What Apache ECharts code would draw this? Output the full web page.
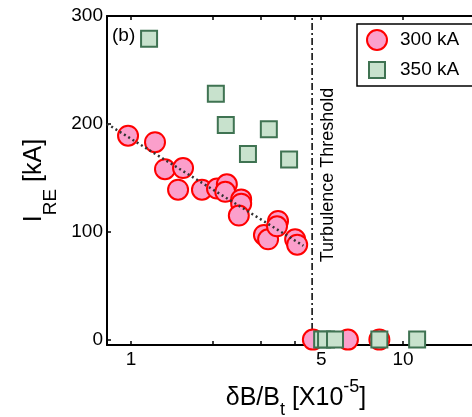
<!DOCTYPE html>
<html>
<head>
<meta charset="utf-8">
<script src="https://cdn.jsdelivr.net/npm/echarts@6/dist/echarts.min.js"></script>
<style>
  html, body { margin: 0; padding: 0; background: #fff; }
  #chart { width: 472px; height: 417px; }
</style>
</head>
<body>
<div id="chart"></div>
<script>
// 300 kA shots (circles)
const circleX = [0.975, 1.225, 1.333, 1.553, 1.489, 1.823, 2.07, 2.25, 2.22, 2.54, 2.54, 2.49, 3.08, 3.19, 3.47, 3.44, 4.01, 4.08, 4.66, 6.27, 8.18]
const circleY = [189, 183, 158, 159, 139, 139, 140, 144, 137, 130, 126, 115, 97, 93, 110, 105, 93, 88, 0, 0, 0]
// 350 kA shots (squares)
const squareX = [1.165, 2.05, 2.23, 3.21, 2.69, 3.81, 5.04, 5.21, 5.62, 8.18, 11.26]
const squareY = [279, 228, 199, 195, 172, 167, 0, 0, 0, 0, 0]
// dotted trend line end points
const fitX = [0.816, 4.3]
const fitY = [200, 87]
// turbulence threshold
const thresholdX = 4.63
const yMin = -5
const yMax = 300
const xMin = 0.816
const xMax = 20
const xLabelValues = [1, 5, 10]
const xTickValues = [1, 2, 3, 4, 5, 10]
const yTickValues = [0, 100, 200, 300]

const FONT = 'Liberation Sans, Arial, sans-serif'
const lg = v => Math.log10(v)
const pairs = (xs, ys) => xs.map((x, i) => [lg(x), ys[i]])

let myChart = echarts.init(document.getElementById('chart'))

const xAxisBase = {
  type: 'value',
  min: lg(xMin),
  max: lg(xMax),
  splitLine: { show: false },
  axisLine: { onZero: false, lineStyle: { color: '#000', width: 2 } },
  axisTick: {
    inside: true,
    length: 4,
    customValues: xTickValues.map(lg),
    lineStyle: { color: '#000', width: 1.5 }
  }
}

let option = {
  backgroundColor: '#fff',
  animation: false,
  grid: { left: 107, top: 16, bottom: 72, right: -13, outerBoundsMode: 'none', containLabel: false },
  legend: {
    orient: 'vertical',
    left: 357,
    top: 24,
    padding: [5, 40, 5, 9],
    itemGap: 8,
    itemWidth: 36,
    itemHeight: 20,
    backgroundColor: '#fff',
    borderColor: '#000',
    borderWidth: 1.5,
    textStyle: { fontSize: 19, fontFamily: FONT, color: '#000', lineHeight: 20 },
    data: [
      { name: '300 kA', icon: 'circle' },
      { name: '350 kA', icon: 'path://M0,0M20,20M2,2h16v16h-16z' }
    ]
  },
  xAxis: [
    Object.assign({}, xAxisBase, {
      position: 'bottom',
      name: '{a|δB/B}{s|t}{a| [X10}{p|-5}{a|]}',
      nameLocation: 'middle',
      nameGap: 33,
      nameTextStyle: {
        rich: {
          a: { fontSize: 25, lineHeight: 41, fontFamily: FONT, color: '#000' },
          s: { fontSize: 18, lineHeight: 18, verticalAlign: 'bottom', fontFamily: FONT, color: '#000' },
          p: { fontSize: 18, lineHeight: 24, verticalAlign: 'top', fontFamily: FONT, color: '#000' }
        }
      },
      axisLabel: {
        margin: 5,
        fontSize: 19,
        fontFamily: FONT,
        color: '#000',
        customValues: xLabelValues.map(lg),
        formatter: v => String(Math.round(Math.pow(10, v)))
      }
    }),
    Object.assign({}, xAxisBase, {
      position: 'top',
      axisLabel: { show: false }
    })
  ],
  yAxis: {
    type: 'value',
    min: yMin,
    max: yMax,
    splitLine: { show: false },
    axisLine: { show: true, onZero: false, lineStyle: { color: '#000', width: 2 } },
    axisTick: {
      show: true,
      inside: true,
      length: 4,
      customValues: yTickValues,
      lineStyle: { color: '#000', width: 1.5 }
    },
    axisLabel: {
      margin: 4,
      fontSize: 19,
      fontFamily: FONT,
      color: '#000',
      customValues: yTickValues
    },
    name: '{a|I}{s|RE}{a| [kA]}',
    nameLocation: 'middle',
    nameGap: 47,
    nameTextStyle: {
      rich: {
        a: { fontSize: 25, lineHeight: 51, fontFamily: FONT, color: '#000' },
        s: { fontSize: 19, lineHeight: 19, verticalAlign: 'bottom', fontFamily: FONT, color: '#000' }
      }
    }
  },
  graphic: [
    {
      type: 'text',
      left: 112,
      top: 26,
      style: { text: '(b)', fontSize: 19, fontFamily: FONT, fill: '#000' }
    },
    {
      type: 'text',
      x: 328,
      y: 175,
      rotation: Math.PI / 2,
      style: {
        text: 'Turbulence Threshold',
        fontSize: 18,
        fontFamily: FONT,
        fill: '#000',
        align: 'center',
        verticalAlign: 'middle'
      }
    }
  ],
  series: [
    {
      // threshold line
      type: 'line',
      silent: true,
      symbol: 'none',
      z: 1,
      lineStyle: { color: '#000', width: 1.5, type: [7, 3, 2, 3] },
      data: [[lg(thresholdX), yMin], [lg(thresholdX), yMax]]
    },
    {
      name: '300 kA',
      type: 'scatter',
      symbol: 'circle',
      symbolSize: 20,
      z: 3,
      itemStyle: { color: '#fb9fcb', borderColor: '#ff0000', borderWidth: 2, opacity: 1 },
      data: pairs(circleX, circleY)
    },
    {
      name: '350 kA',
      type: 'scatter',
      symbol: 'rect',
      symbolSize: 16,
      z: 4,
      itemStyle: { color: '#c8e2cd', borderColor: '#3f7352', borderWidth: 2, opacity: 1 },
      data: pairs(squareX, squareY)
    },
    {
      // trend
      type: 'line',
      silent: true,
      symbol: 'none',
      z: 5,
      lineStyle: { color: '#333', width: 2.5, type: [2, 3] },
      data: pairs(fitX, fitY)
    }
  ]
}

myChart.setOption(option)
</script>
</body>
</html>
